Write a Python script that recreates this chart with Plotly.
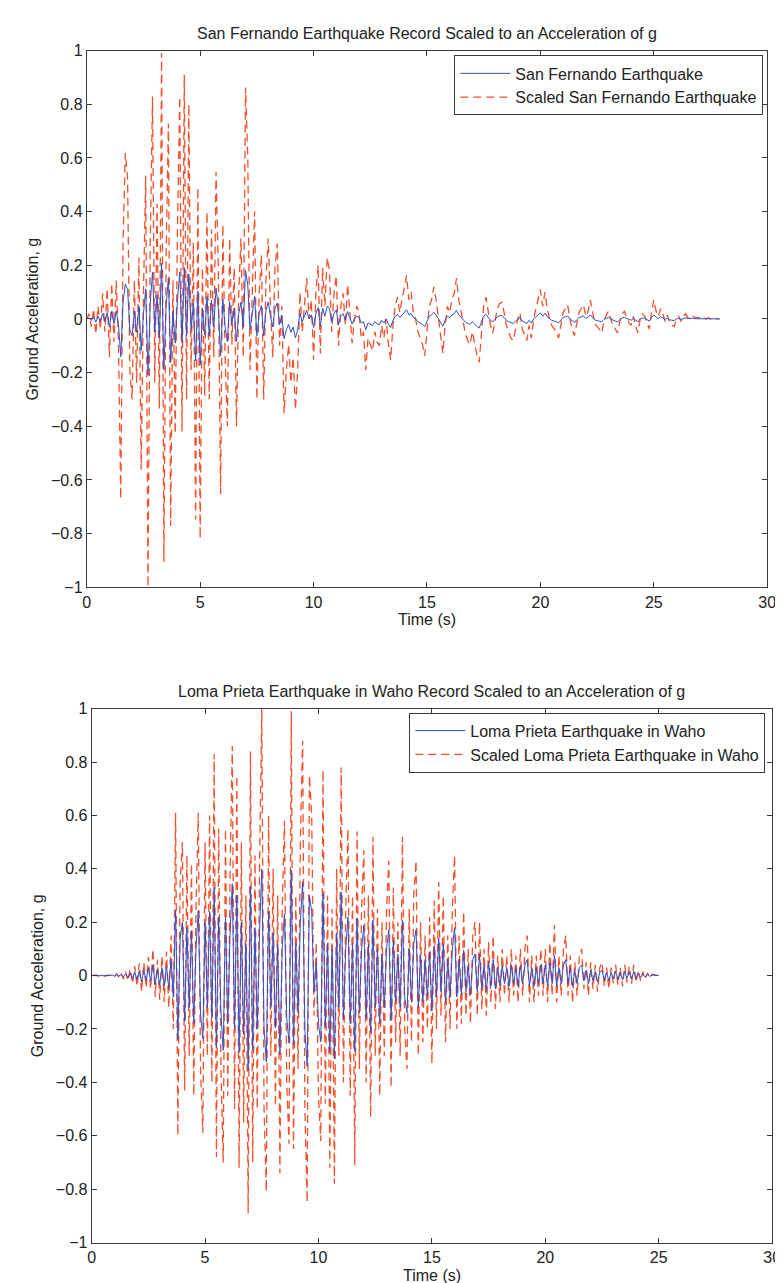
import numpy as np
import plotly.graph_objects as go

# ---------------- data ----------------
DT = 0.1  # s, sample spacing used for the digitised records

# San Fernando ground acceleration record, g (one row per second)
sf_record_g = [
    0.000, 0.004, -0.006, 0.008, -0.012, 0.010, -0.008, 0.020, -0.010, 0.024,
    -0.030, 0.028, -0.018, 0.030, -0.020, -0.141, 0.060, 0.130, 0.110, -0.040,
    -0.063, 0.030, -0.050, 0.048, -0.118, 0.020, 0.112, -0.210, 0.060, 0.174,
    -0.050, 0.090, -0.070, 0.208, -0.190, 0.050, 0.153, -0.162, 0.030, -0.090,
    0.070, 0.174, -0.088, 0.191, -0.063, 0.168, -0.040, 0.060, -0.157, 0.103,
    -0.172, 0.040, -0.060, 0.084, -0.063, 0.070, -0.030, 0.115, 0.040, -0.137,
    0.074, -0.030, -0.084, 0.063, -0.020, 0.040, -0.084, 0.020, 0.063, -0.030,
    0.181, 0.126, -0.040, 0.030, 0.084, -0.063, 0.020, 0.050, -0.063, 0.030,
    0.063, 0.010, -0.030, 0.040, 0.059, -0.021, 0.010, -0.074, -0.040, -0.020,
    -0.050, -0.030, -0.071, -0.040, 0.021, -0.010, 0.010, 0.032, 0.000, 0.015,
    -0.032, 0.020, 0.042, -0.027, 0.040, 0.010, 0.048, 0.038, -0.010, 0.020,
    0.034, -0.021, 0.010, 0.020, -0.005, 0.027, 0.005, -0.019, 0.000, 0.010,
    0.006, -0.015, -0.010, -0.040, -0.015, -0.020, -0.025, -0.010, -0.018, -0.021,
    -0.005, -0.015, 0.000, -0.020, -0.032, -0.005, 0.010, 0.017, 0.005, 0.015,
    0.025, 0.034, 0.015, 0.021, 0.005, 0.000, -0.010, -0.015, -0.020, -0.029,
    -0.010, 0.010, 0.015, 0.025, 0.015, 0.000, -0.015, -0.027, -0.005, 0.010,
    0.005, 0.015, 0.020, 0.032, 0.015, 0.005, -0.005, -0.012, -0.017, -0.020,
    -0.010, -0.020, -0.028, -0.034, -0.010, 0.010, 0.017, 0.005, -0.005, -0.011,
    0.000, 0.008, 0.012, 0.013, 0.005, -0.005, -0.010, -0.015, -0.017, -0.008,
    0.000, 0.005, -0.008, -0.012, -0.017, -0.005, -0.015, 0.000, 0.008, 0.015,
    0.023, 0.010, 0.021, 0.008, 0.000, -0.005, -0.008, -0.010, -0.015, -0.003,
    0.005, 0.008, 0.011, 0.000, -0.008, -0.013, -0.003, 0.005, 0.008, 0.011,
    0.002, 0.006, 0.015, 0.004, -0.004, -0.006, -0.008, -0.011, -0.002, 0.003,
    0.006, 0.000, -0.005, -0.008, -0.011, -0.002, 0.004, 0.006, 0.002, -0.003,
    -0.005, 0.002, -0.006, -0.011, 0.000, 0.004, 0.002, -0.004, -0.008, 0.005,
    0.015, 0.006, 0.002, 0.008, 0.004, -0.002, 0.003, -0.003, -0.005, -0.006,
    0.000, 0.002, -0.002, 0.002, 0.004, 0.001, 0.002, 0.003, 0.001, 0.001,
    0.001, 0.000, 0.001, 0.000, 0.001, 0.000, 0.000, 0.001, 0.000, 0.000,
]

# Loma Prieta (Waho station) ground acceleration record, g (one row per second)
lp_record_g = [
    0.000, 0.000, 0.001, -0.001, 0.001, 0.000, -0.001, 0.001, 0.000, 0.002,
    -0.002, 0.003, -0.002, 0.004, -0.005, 0.006, -0.008, 0.010, -0.012, 0.014,
    -0.016, 0.018, -0.024, 0.020, -0.018, 0.028, -0.020, 0.040, -0.032, 0.024,
    -0.036, 0.030, -0.040, 0.036, -0.048, 0.060, -0.080, 0.244, -0.240, 0.140,
    0.200, -0.172, 0.180, -0.120, 0.168, -0.180, 0.100, 0.244, -0.140, -0.236,
    0.200, -0.120, 0.240, -0.160, 0.332, -0.272, 0.220, -0.140, -0.280, 0.220,
    -0.180, 0.150, 0.344, -0.200, 0.300, -0.288, 0.200, -0.220, 0.120, -0.356,
    0.336, -0.280, 0.180, -0.200, 0.160, 0.400, -0.200, -0.324, 0.240, -0.120,
    0.160, -0.196, 0.120, -0.296, 0.100, 0.232, -0.160, -0.252, 0.396, -0.260,
    0.120, -0.140, 0.200, 0.352, -0.200, -0.340, 0.300, 0.240, -0.060, 0.050,
    -0.180, -0.248, 0.308, -0.192, 0.120, -0.288, 0.100, -0.312, 0.160, -0.120,
    0.312, -0.160, 0.100, 0.220, -0.180, 0.120, -0.284, 0.216, -0.140, 0.100,
    0.188, -0.160, 0.120, -0.212, 0.208, -0.120, 0.100, -0.180, 0.080, -0.120,
    0.100, 0.172, -0.168, 0.132, -0.100, 0.080, -0.120, 0.208, -0.080, -0.140,
    0.100, -0.100, 0.120, 0.172, -0.120, 0.080, -0.100, 0.060, -0.080, 0.088,
    -0.132, 0.112, -0.080, 0.140, -0.060, 0.120, -0.100, 0.060, -0.080, 0.100,
    0.180, -0.080, 0.060, -0.072, 0.096, -0.060, 0.040, -0.072, 0.060, 0.080,
    -0.060, 0.080, -0.050, 0.040, -0.060, 0.050, -0.040, 0.060, -0.050, 0.030,
    -0.040, 0.040, -0.030, 0.030, -0.040, 0.040, -0.030, 0.030, -0.040, 0.040,
    -0.030, 0.040, 0.060, -0.040, 0.030, -0.040, 0.030, -0.030, 0.040, -0.030,
    0.040, -0.040, 0.050, -0.030, 0.076, -0.040, 0.030, -0.030, 0.040, 0.060,
    -0.030, 0.030, -0.040, 0.020, -0.030, 0.030, 0.040, -0.020, 0.020, -0.030,
    0.020, -0.020, 0.016, -0.024, 0.012, 0.020, -0.016, 0.012, -0.020, 0.012,
    -0.012, 0.016, -0.014, 0.012, -0.016, 0.016, -0.010, 0.014, -0.012, 0.016,
    -0.010, 0.008, -0.008, 0.006, -0.005, 0.004, -0.003, 0.002, 0.001, 0.000,
    0.000,
]

x_ticks = [0, 5, 10, 15, 20, 25, 30]
y_ticks = [-1, -0.8, -0.6, -0.4, -0.2, 0, 0.2, 0.4, 0.6, 0.8, 1]
y_tick_labels = ["\u22121", "\u22120.8", "\u22120.6", "\u22120.4", "\u22120.2", "0",
                 "0.2", "0.4", "0.6", "0.8", "1"]

titles = ["San Fernando Earthquake Record Scaled to an Acceleration of g",
          "Loma Prieta Earthquake in Waho Record Scaled to an Acceleration of g"]
names = [("San Fernando Earthquake", "Scaled San Fernando Earthquake"),
         ("Loma Prieta Earthquake in Waho", "Scaled Loma Prieta Earthquake in Waho")]

# ---------------- derived series ----------------
sf = np.array(sf_record_g)
lp = np.array(lp_record_g)
sf_t = np.round(np.arange(len(sf)) * DT, 3)
lp_t = np.round(np.arange(len(lp)) * DT, 3)
sf_scaled = sf / np.max(np.abs(sf))   # scaled so that peak |a| = 1 g
lp_scaled = lp / np.max(np.abs(lp))

# ---------------- figure ----------------
W, H = 783, 1283
FONT = "Liberation Sans, Arial, Helvetica, sans-serif"
FS = 16
BLUE = "#3050c8"
RED = "#f0502a"
INK = "#222222"
FRAME = "#3a3a3a"

def px_x(p):
    return p / W

def px_y(p):
    return 1 - p / H

fig = go.Figure()

panels = [
    dict(t=sf_t, rec=sf, sc=sf_scaled, xa="x", ya="y", leg="legend"),
    dict(t=lp_t, rec=lp, sc=lp_scaled, xa="x2", ya="y2", leg="legend2"),
]
for i, p in enumerate(panels):
    fig.add_trace(go.Scatter(
        x=p["t"], y=p["sc"], mode="lines", name=names[i][1],
        line=dict(color=RED, width=1.3, dash="8px,5px"),
        xaxis=p["xa"], yaxis=p["ya"], legend=p["leg"], legendrank=2))
    fig.add_trace(go.Scatter(
        x=p["t"], y=p["rec"], mode="lines", name=names[i][0],
        line=dict(color=BLUE, width=1),
        xaxis=p["xa"], yaxis=p["ya"], legend=p["leg"], legendrank=1))

axis_common = dict(
    showgrid=False, zeroline=False, showline=True, mirror="ticks",
    linecolor=FRAME, linewidth=1, ticks="inside", ticklen=5,
    tickcolor=FRAME, tickfont=dict(family=FONT, size=FS, color=INK),
)

# pixel boxes of the two axes: (left, right, top, bottom)
boxes = [(76, 768, 35, 579), (81, 773, 702, 1243)]

legend_common = dict(
    xanchor="right", yanchor="top", bgcolor="white", bordercolor=FRAME,
    borderwidth=1, font=dict(family=FONT, size=FS, color=INK),
    itemwidth=50, tracegroupgap=0,
)

fig.update_layout(
    width=W, height=H, margin=dict(l=0, r=0, t=0, b=0),
    paper_bgcolor="white", plot_bgcolor="white",
    font=dict(family=FONT, size=FS, color=INK),
    xaxis=dict(domain=[px_x(boxes[0][0]), px_x(boxes[0][1])], range=[0, 30],
               tickvals=x_ticks, anchor="y", **axis_common),
    yaxis=dict(domain=[px_y(boxes[0][3]), px_y(boxes[0][2])], range=[-1, 1],
               tickvals=y_ticks, ticktext=y_tick_labels, anchor="x", **axis_common),
    xaxis2=dict(domain=[px_x(boxes[1][0]), px_x(boxes[1][1])], range=[0, 30],
                tickvals=x_ticks, anchor="y2", **axis_common),
    yaxis2=dict(domain=[px_y(boxes[1][3]), px_y(boxes[1][2])], range=[-1, 1],
                tickvals=y_ticks, ticktext=y_tick_labels, anchor="x2", **axis_common),
    legend=dict(x=px_x(boxes[0][1] - 4), y=px_y(40), **legend_common),
    legend2=dict(x=px_x(boxes[1][1] - 7), y=px_y(706), **legend_common),
    showlegend=True,
)

annos = []
for i, (l, r, t, b) in enumerate(boxes):
    cx = (l + r) / 2
    cy = (t + b) / 2
    annos.append(dict(text=titles[i], x=px_x(cx), y=px_y(t - 17), xref="paper", yref="paper",
                      xanchor="center", yanchor="middle", showarrow=False,
                      font=dict(family=FONT, size=FS, color=INK)))
    annos.append(dict(text="Time (s)", x=px_x(cx), y=px_y(b + 33), xref="paper", yref="paper",
                      xanchor="center", yanchor="middle", showarrow=False,
                      font=dict(family=FONT, size=FS, color=INK)))
    annos.append(dict(text="Ground Acceleration, g", x=px_x(l - 55), y=px_y(cy),
                      xref="paper", yref="paper", xanchor="center", yanchor="middle",
                      textangle=-90, showarrow=False,
                      font=dict(family=FONT, size=FS, color=INK)))
fig.update_layout(annotations=annos)

fig.write_html("out.html")
